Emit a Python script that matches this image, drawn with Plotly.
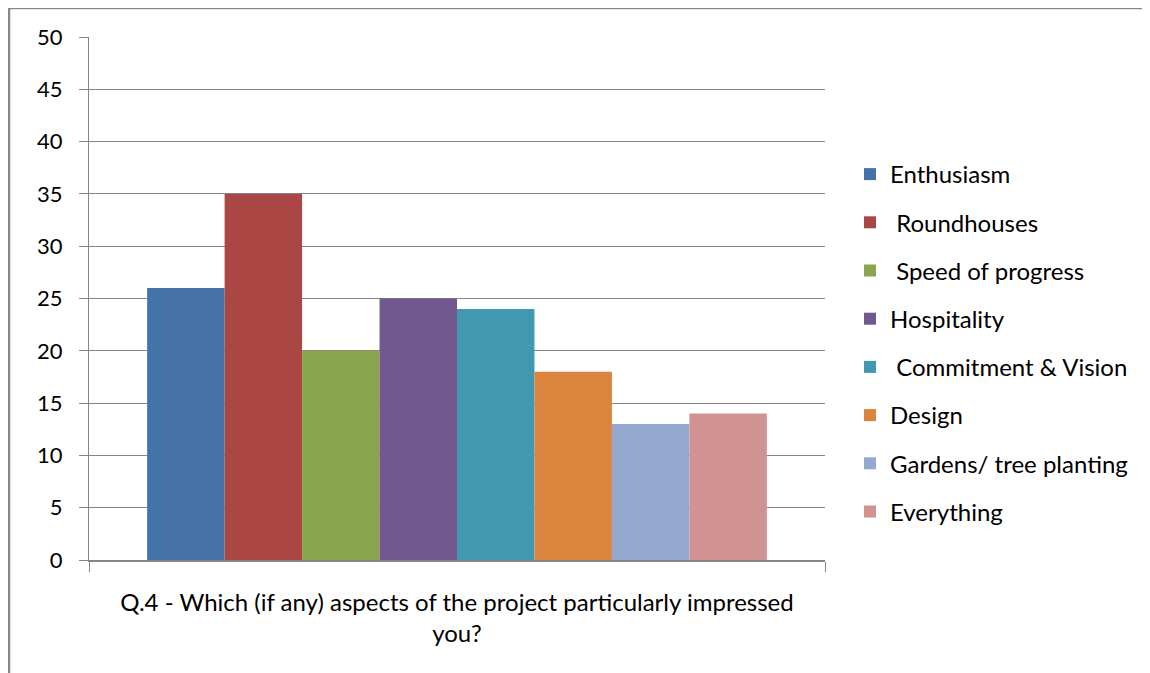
import plotly.graph_objects as go

category = ["Q.4 - Which (if any) aspects of the project particularly impressed<br>you?"]
series_names = ["Enthusiasm", " Roundhouses", " Speed of progress", "Hospitality",
                " Commitment & Vision", "Design", "Gardens/ tree planting", "Everything"]
series_values = [26, 35, 20, 25, 24, 18, 13, 14]
series_colors = ["#4572A7", "#AA4643", "#89A54E", "#71588F",
                 "#4198AF", "#DB843D", "#93A9CF", "#D19392"]
y_ticks = [0, 5, 10, 15, 20, 25, 30, 35, 40, 45, 50]

FONT = "Lato, 'Liberation Sans', sans-serif"
GRID = "#868686"

fig = go.Figure()
for name, val, col in zip(series_names, series_values, series_colors):
    fig.add_trace(go.Bar(x=category, y=[val], name=name, marker_color=col,
                         marker_line_width=0, legendgroup=name))

# page body has an 8px offset
W, H = 1142, 665
L, T = 81, 29
plot_right, plot_bottom = 817, 552
R, B = W - plot_right, H - plot_bottom
pw, ph = plot_right - L, plot_bottom - T

fig.update_layout(
    width=W, height=H,
    margin=dict(l=L, r=R, t=T, b=B, pad=0),
    paper_bgcolor="white", plot_bgcolor="white",
    barmode="group", bargap=0.158, bargroupgap=0,
    font=dict(family=FONT, size=24, color="#000000"),
    showlegend=True,
    legend=dict(x=(842 - L) / pw, xanchor="left", y=(plot_bottom - 335) / ph, yanchor="middle",
                font=dict(family=FONT, size=24, color="#000000"),
                tracegroupgap=14, bgcolor="rgba(0,0,0,0)", itemwidth=30),
    xaxis=dict(type="category", showgrid=False, showline=True, linecolor=GRID, linewidth=2,
               ticks="outside", tickson="boundaries", ticklen=10, tickcolor=GRID, tickwidth=1,
               tickfont=dict(family=FONT, size=24, color="#000000"), ticklabelstandoff=20),
    yaxis=dict(range=[0, 50], tickvals=y_ticks, showgrid=True, gridcolor=GRID, gridwidth=1,
               showline=True, linecolor=GRID, linewidth=1, zeroline=False,
               ticks="outside", ticklen=9, tickcolor=GRID, tickwidth=1,
               tickfont=dict(family=FONT, size=22, color="#000000"), ticklabelstandoff=12),
)

# chart outer border (Excel chart area)
fig.add_shape(type="rect", xref="paper", yref="paper",
              x0=(1 - L) / pw, x1=(1400 - L) / pw,
              y0=(plot_bottom - 800) / ph, y1=1 + (T - 0) / ph,
              line=dict(color="#878787", width=2.5), fillcolor="rgba(0,0,0,0)", layer="below")

fig.write_html("out.html")
